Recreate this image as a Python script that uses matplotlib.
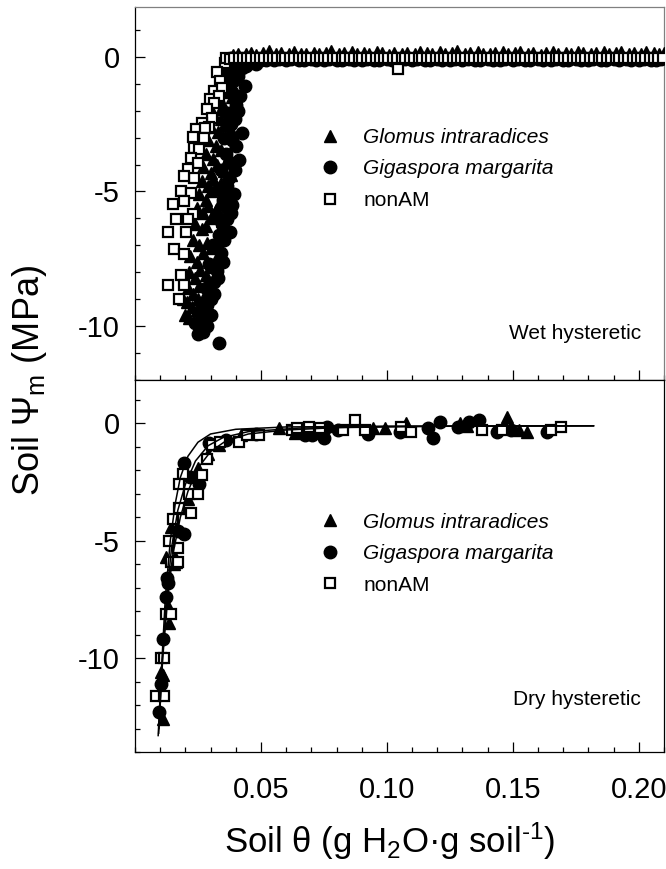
import matplotlib
matplotlib.use('Agg')
import matplotlib.pyplot as plt
from matplotlib.ticker import MultipleLocator, FixedLocator

plt.rcParams['font.family'] = ['Liberation Sans', 'DejaVu Sans']
plt.rcParams['axes.unicode_minus'] = False
plt.rcParams['mathtext.fontset'] = 'custom'
plt.rcParams['mathtext.rm'] = 'Liberation Sans'
plt.rcParams['mathtext.it'] = 'Liberation Sans:italic'

series_labels = ['Glomus intraradices', 'Gigaspora margarita', 'nonAM']
panel_labels = ['Wet hysteretic', 'Dry hysteretic']
x_ticks = [0.05, 0.10, 0.15, 0.20]
x_tick_labels = ['0.05', '0.10', '0.15', '0.20']
y_ticks = [0, -5, -10]
y_tick_labels = ['0', '-5', '-10']

# ---------------- Wet hysteretic (top panel) ----------------
gi_wet_steep_x = [0.0360, 0.0350, 0.0345, 0.0370, 0.0335, 0.0360, 0.0325, 0.0350, 0.0310, 0.0340,
                  0.0300, 0.0330, 0.0380, 0.0290, 0.0320, 0.0280, 0.0310, 0.0360, 0.0270, 0.0300,
                  0.0265, 0.0290, 0.0340, 0.0255, 0.0280, 0.0245, 0.0270, 0.0320, 0.0240, 0.0265,
                  0.0230, 0.0255, 0.0300, 0.0220, 0.0245, 0.0215, 0.0240, 0.0280, 0.0210, 0.0230,
                  0.0205, 0.0225, 0.0190, 0.0250,
                  0.0375, 0.0390, 0.0365, 0.0385, 0.0345, 0.0370, 0.0355, 0.0395, 0.0340, 0.0375,
                  0.0325, 0.0355, 0.0380, 0.0310, 0.0350, 0.0300, 0.0335, 0.0290, 0.0345, 0.0300,
                  0.0280, 0.0330, 0.0285, 0.0320, 0.0270, 0.0300, 0.0260, 0.0295, 0.0255, 0.0275,
                  0.0245, 0.0200, 0.0215]
gi_wet_steep_y = [-0.10, -0.40, -0.75, -0.60, -1.10, -1.30, -1.60, -1.80, -2.10, -2.30,
                  -2.60, -2.80, -2.70, -3.10, -3.30, -3.60, -3.80, -3.90, -4.10, -4.30,
                  -4.60, -4.80, -4.70, -5.10, -5.30, -5.60, -5.80, -5.70, -6.20, -6.40,
                  -6.80, -7.00, -7.10, -7.40, -7.60, -8.00, -8.20, -8.10, -8.60, -8.80,
                  -9.10, -9.30, -9.00, -9.00,
                  -0.20, -0.35, -0.95, -1.50, -1.95, -2.20, -2.55, -3.20, -3.45, -3.70,
                  -4.00, -4.25, -4.40, -4.55, -5.00, -5.00, -5.45, -5.55, -6.10, -6.00,
                  -6.30, -6.80, -6.90, -7.50, -7.30, -7.80, -7.90, -8.40, -8.50, -8.90,
                  -9.40, -9.60, -9.70]
gi_wet_flat_x = [0.039, 0.041, 0.044, 0.046, 0.048, 0.051, 0.053, 0.056, 0.058, 0.061,
                 0.063, 0.066, 0.068, 0.071, 0.073, 0.076, 0.078, 0.081, 0.083, 0.086,
                 0.088, 0.091, 0.093, 0.096, 0.098, 0.101, 0.103, 0.106, 0.108, 0.111,
                 0.113, 0.116, 0.118, 0.121, 0.123, 0.126, 0.128, 0.131, 0.133, 0.136,
                 0.138, 0.141, 0.143, 0.146, 0.148, 0.151, 0.153, 0.156, 0.158, 0.161,
                 0.163, 0.166, 0.168, 0.171, 0.173, 0.176, 0.178, 0.181, 0.183, 0.186,
                 0.188, 0.191, 0.193, 0.196, 0.198, 0.201, 0.203, 0.206, 0.208, 0.210]
gi_wet_flat_y = [0.05, 0.12, 0.10, 0.16, 0.08, 0.14, 0.20, 0.11, 0.15, 0.09,
                 0.18, 0.12, 0.10, 0.16, 0.11, 0.14, 0.21, 0.09, 0.13, 0.17,
                 0.10, 0.15, 0.12, 0.19, 0.13, 0.08, 0.16, 0.11, 0.15, 0.10,
                 0.18, 0.13, 0.09, 0.17, 0.12, 0.15, 0.21, 0.10, 0.13, 0.17,
                 0.12, 0.09, 0.15, 0.19, 0.10, 0.13, 0.17, 0.12, 0.15, 0.08,
                 0.13, 0.18, 0.10, 0.15, 0.12, 0.17, 0.13, 0.09, 0.15, 0.19,
                 0.12, 0.13, 0.17, 0.10, 0.15, 0.12, 0.18, 0.13, 0.10, 0.13]

gm_wet_steep_x = [0.0380, 0.0395, 0.0370, 0.0410, 0.0436, 0.0385, 0.0400, 0.0370, 0.0424, 0.0380,
                  0.0355, 0.0412, 0.0360, 0.0340, 0.0375, 0.0392, 0.0330, 0.0384, 0.0350, 0.0364,
                  0.0376, 0.0320, 0.0335, 0.0310, 0.0340, 0.0324, 0.0295, 0.0312, 0.0280, 0.0284,
                  0.0300, 0.0264, 0.0252, 0.0332, 0.0270,
                  0.0410, 0.0425, 0.0390, 0.0415, 0.0395, 0.0410, 0.0400, 0.0385, 0.0395, 0.0380,
                  0.0365, 0.0380, 0.0360, 0.0355, 0.0345, 0.0350, 0.0330, 0.0315, 0.0300, 0.0285,
                  0.0270, 0.0240]
gm_wet_steep_y = [-0.05, -0.25, -0.45, -0.70, -1.08, -1.30, -1.80, -2.10, -2.84, -2.50,
                  -3.00, -3.84, -3.60, -4.20, -4.50, -5.11, -4.90, -5.49, -5.30, -6.04,
                  -6.49, -5.90, -6.60, -7.00, -7.30, -7.95, -7.70, -8.36, -8.60, -9.22,
                  -9.00, -9.78, -10.30, -10.63, -9.40,
                  -0.15, -0.40, -0.90, -1.45, -2.30, -2.00, -3.30, -3.10, -4.20, -3.95,
                  -4.80, -5.80, -5.60, -6.80, -6.20, -7.60, -8.20, -8.80, -9.60, -10.00,
                  -10.20, -9.90]
gm_wet_flat_x = [0.042, 0.045, 0.047, 0.050, 0.052, 0.055, 0.057, 0.060, 0.062, 0.065,
                 0.067, 0.070, 0.072, 0.075, 0.077, 0.080, 0.082, 0.085, 0.087, 0.090,
                 0.092, 0.095, 0.097, 0.100, 0.102, 0.105, 0.107, 0.110, 0.112, 0.115,
                 0.117, 0.120, 0.122, 0.125, 0.127, 0.130, 0.132, 0.135, 0.137, 0.140,
                 0.142, 0.145, 0.147, 0.150, 0.152, 0.155, 0.157, 0.160, 0.162, 0.165,
                 0.167, 0.170, 0.172, 0.175, 0.177, 0.180, 0.182, 0.185, 0.187, 0.190,
                 0.192, 0.195, 0.197, 0.200, 0.202, 0.205, 0.207, 0.209, 0.044, 0.048]
gm_wet_flat_y = [-0.22, -0.18, -0.15, -0.13, -0.10, -0.12, -0.09, -0.11, -0.08, -0.10,
                 -0.12, -0.09, -0.10, -0.11, -0.08, -0.10, -0.12, -0.09, -0.10, -0.11,
                 -0.08, -0.10, -0.11, -0.09, -0.10, -0.12, -0.09, -0.10, -0.08, -0.11,
                 -0.10, -0.09, -0.12, -0.10, -0.09, -0.11, -0.08, -0.10, -0.11, -0.09,
                 -0.10, -0.12, -0.09, -0.10, -0.08, -0.11, -0.10, -0.09, -0.12, -0.10,
                 -0.09, -0.10, -0.11, -0.08, -0.10, -0.11, -0.09, -0.10, -0.12, -0.09,
                 -0.10, -0.09, -0.11, -0.10, -0.08, -0.10, -0.11, -0.09, -0.35, -0.28]

na_wet_steep_x = [0.0356, 0.0324, 0.0336, 0.0312, 0.0344, 0.0296, 0.0332, 0.0312, 0.0284, 0.0304,
                  0.0264, 0.0292, 0.0244, 0.0276, 0.0232, 0.0272, 0.0236, 0.0256, 0.0224, 0.0252,
                  0.0212, 0.0236, 0.0196, 0.0184, 0.0224, 0.0152, 0.0196, 0.0232, 0.0164, 0.0212,
                  0.0132, 0.0204, 0.0156, 0.0196, 0.0184, 0.0132, 0.0196, 0.0176, 0.1044]
na_wet_steep_y = [-0.22, -0.56, -0.90, -1.27, -1.16, -1.57, -1.46, -1.72, -1.94, -2.28,
                  -2.46, -2.61, -2.69, -2.65, -2.99, -3.02, -3.40, -3.43, -3.77, -3.96,
                  -4.18, -4.51, -4.44, -5.00, -5.07, -5.45, -5.37, -5.82, -6.01, -6.04,
                  -6.49, -6.49, -7.13, -7.31, -8.10, -8.47, -8.47, -8.99, -0.45]
na_wet_flat_x = [0.0360, 0.0378, 0.0393, 0.0412, 0.0427, 0.0446, 0.0461, 0.0480, 0.0495, 0.0514,
                 0.0530, 0.0548, 0.0563, 0.0582, 0.0597, 0.0616, 0.0631, 0.0650, 0.0665, 0.0684,
                 0.0700, 0.0718, 0.0733, 0.0752, 0.0767, 0.0786, 0.0801, 0.0820, 0.0835, 0.0854,
                 0.0870, 0.0888, 0.0903, 0.0922, 0.0937, 0.0956, 0.0971, 0.0990, 0.1005, 0.1024,
                 0.1040, 0.1058, 0.1073, 0.1092, 0.1107, 0.1126, 0.1141, 0.1160, 0.1175, 0.1194,
                 0.1210, 0.1228, 0.1243, 0.1262, 0.1277, 0.1296, 0.1311, 0.1330, 0.1345, 0.1364,
                 0.1380, 0.1398, 0.1413, 0.1432, 0.1447, 0.1466, 0.1481, 0.1500, 0.1515, 0.1534,
                 0.1550, 0.1568, 0.1583, 0.1602, 0.1617, 0.1636, 0.1651, 0.1670, 0.1685, 0.1704,
                 0.1720, 0.1738, 0.1753, 0.1772, 0.1787, 0.1806, 0.1821, 0.1840, 0.1855, 0.1874,
                 0.1890, 0.1908, 0.1923, 0.1942, 0.1957, 0.1976, 0.1991, 0.2010, 0.2025, 0.2044,
                 0.2060, 0.2078, 0.2095]
na_wet_flat_y = [-0.05, -0.08, -0.04, -0.06, -0.03, -0.05, -0.04, -0.06, -0.03, -0.05,
                 -0.04, -0.06, -0.05, -0.03, -0.05, -0.04, -0.06, -0.05, -0.03, -0.05,
                 -0.04, -0.06, -0.05, -0.04, -0.03, -0.05, -0.06, -0.04, -0.04, -0.05,
                 -0.03, -0.05, -0.04, -0.06, -0.05, -0.03, -0.05, -0.04, -0.06, -0.05,
                 -0.04, -0.03, -0.05, -0.06, -0.04, -0.05, -0.03, -0.05, -0.04, -0.06,
                 -0.05, -0.04, -0.03, -0.05, -0.06, -0.04, -0.05, -0.03, -0.05, -0.04,
                 -0.06, -0.05, -0.04, -0.03, -0.05, -0.04, -0.06, -0.05, -0.04, -0.05,
                 -0.04, -0.06, -0.03, -0.05, -0.04, -0.06, -0.05, -0.03, -0.05, -0.04,
                 -0.05, -0.03, -0.06, -0.04, -0.05, -0.04, -0.03, -0.06, -0.05, -0.04,
                 -0.03, -0.05, -0.04, -0.06, -0.05, -0.04, -0.03, -0.05, -0.06, -0.04,
                 -0.05, -0.04, -0.05]

# ---------------- Dry hysteretic (bottom panel) ----------------
gi_dry_x = [0.0112, 0.0104, 0.0112, 0.0136, 0.0160, 0.0124, 0.0164, 0.0132, 0.0156, 0.0144,
            0.0176, 0.0212, 0.0196, 0.0252, 0.0290, 0.0335, 0.0420, 0.0572, 0.0636, 0.0944,
            0.0992, 0.1076, 0.1292, 0.1316, 0.1476, 0.1524, 0.1556]
gi_dry_y = [-12.6, -10.6, -10.7, -8.5, -5.7, -5.7, -5.9, -7.8, -6.0, -4.4,
            -3.6, -3.2, -2.0, -1.9, -1.3, -0.9, -0.5, -0.2, -0.4, -0.2,
            -0.2, 0.0, 0.0, -0.1, 0.26, -0.3, -0.38]

gm_dry_x = [0.0096, 0.0104, 0.0112, 0.0124, 0.0132, 0.0128, 0.0172, 0.0196, 0.0196, 0.0256,
            0.0220, 0.0292, 0.0360, 0.0480, 0.0676, 0.0704, 0.0752, 0.0764, 0.0804, 0.0924,
            0.1052, 0.1164, 0.1184, 0.1212, 0.1284, 0.1324, 0.1364, 0.1436, 0.1492, 0.1636]
gm_dry_y = [-12.3, -11.1, -9.2, -7.4, -6.8, -6.6, -4.6, -4.7, -1.7, -2.6,
            -2.3, -0.85, -0.7, -0.45, -0.5, -0.5, -0.64, -0.17, -0.3, -0.43,
            -0.38, -0.21, -0.6, 0.04, -0.17, 0.04, 0.13, -0.38, -0.3, -0.38]

na_dry_x = [0.0084, 0.0116, 0.0104, 0.0116, 0.0124, 0.0144, 0.0144, 0.0172, 0.0172, 0.0136,
            0.0152, 0.0176, 0.0224, 0.0216, 0.0252, 0.0192, 0.0264, 0.0284, 0.0304, 0.0336,
            0.0412, 0.0444, 0.0492, 0.0624, 0.0644, 0.0692, 0.0736, 0.0824, 0.0872, 0.0912,
            0.1056, 0.1096, 0.1376, 0.1456, 0.1652, 0.1692, 0.0176]
na_dry_y = [-11.6, -11.6, -10.0, -10.0, -8.1, -8.1, -5.9, -5.9, -5.3, -5.0,
            -4.06, -3.59, -3.8, -2.99, -2.99, -2.14, -2.18, -1.5, -0.94, -0.81,
            -0.81, -0.51, -0.51, -0.30, -0.21, -0.17, -0.21, -0.30, 0.13, -0.30,
            -0.17, -0.38, -0.30, -0.30, -0.30, -0.17, -2.56]

# fitted curves (dry panel)
fit_gi_x = [0.0092, 0.0105, 0.0120, 0.0140, 0.0160, 0.0180, 0.0210, 0.0250, 0.0300, 0.0400, 0.0600, 0.1000, 0.1820]
fit_gi_y = [-13.3, -10.5, -7.5, -5.0, -3.4, -2.3, -1.4, -0.8, -0.45, -0.25, -0.15, -0.12, -0.10]
fit_gm_x = [0.0095, 0.0110, 0.0130, 0.0150, 0.0180, 0.0210, 0.0250, 0.0300, 0.0360, 0.0450, 0.0600, 0.0800, 0.1200, 0.1820]
fit_gm_y = [-13.0, -10.0, -7.4, -5.6, -4.0, -2.9, -1.9, -1.2, -0.75, -0.45, -0.28, -0.18, -0.12, -0.10]
fit_na_x = [0.0094, 0.0108, 0.0125, 0.0145, 0.0170, 0.0200, 0.0240, 0.0290, 0.0350, 0.0450, 0.0650, 0.1000, 0.1820]
fit_na_y = [-13.2, -10.2, -7.5, -5.3, -3.7, -2.6, -1.6, -0.95, -0.6, -0.35, -0.2, -0.13, -0.10]

# ---------------- figure ----------------
W, H = 666, 869
fig = plt.figure(figsize=(W / 100, H / 100), dpi=100)
L, R = 135, 664
ax1 = fig.add_axes([L / W, (H - 380) / H, (R - L) / W, 373 / H])
ax2 = fig.add_axes([L / W, (H - 752) / H, (R - L) / W, 372 / H])

tri = dict(marker='^', ms=9, color='black', ls='none', mec='black', zorder=3)
cir = dict(marker='o', ms=9, color='black', ls='none', mec='black', zorder=3)
sqr = dict(marker='s', ms=6.5, mfc='white', mec='black', mew=1.6, ls='none', zorder=3)

h1, = ax1.plot(gi_wet_steep_x + gi_wet_flat_x, gi_wet_steep_y + gi_wet_flat_y, **tri)
h2, = ax1.plot(gm_wet_steep_x + gm_wet_flat_x, gm_wet_steep_y + gm_wet_flat_y, **cir)
h3, = ax1.plot(na_wet_steep_x + na_wet_flat_x, na_wet_steep_y + na_wet_flat_y, **sqr)

ax2.plot(gi_dry_x, gi_dry_y, **tri)
ax2.plot(gm_dry_x, gm_dry_y, **cir)
ax2.plot(na_dry_x, na_dry_y, **sqr)
for fx, fy in [(fit_gi_x, fit_gi_y), (fit_gm_x, fit_gm_y), (fit_na_x, fit_na_y)]:
    ax2.plot(fx, fy, color='black', lw=1.1, zorder=4)

ax1.set_xlim(0, 0.21)
ax2.set_xlim(0, 0.21)
ax1.set_ylim(-12, 1.85)
ax2.set_ylim(-14, 1.85)

for ax in (ax1, ax2):
    ax.xaxis.set_major_locator(FixedLocator(x_ticks))
    ax.xaxis.set_minor_locator(MultipleLocator(0.01))
    ax.yaxis.set_major_locator(FixedLocator(y_ticks))
    ax.yaxis.set_minor_locator(MultipleLocator(1))
    ax.set_yticklabels(y_tick_labels)
    ax.tick_params(axis='both', which='major', direction='in', length=7, width=0.9,
                   labelsize=21, top=False, right=False)
    ax.tick_params(axis='both', which='minor', direction='in', length=3.5, width=0.9,
                   top=False, right=False)
    ax.tick_params(axis='y', which='major', pad=11)
    ax.tick_params(axis='x', which='major', pad=17)
    for s in ax.spines.values():
        s.set_linewidth(0.9)

ax1.set_xticklabels([])
ax2.set_xticklabels(x_tick_labels)
ax1.spines['top'].set_color('#808080')
ax1.spines['right'].set_color('#808080')

for ax, ycen in [(ax1, 0.566), (ax2, 0.533)]:
    leg = ax.legend([h1, h2, h3], series_labels, loc='center left',
                    bbox_to_anchor=(0.349, ycen), frameon=False, fontsize=15,
                    handlelength=1.0, handletextpad=1.1, labelspacing=0.6,
                    borderaxespad=0, borderpad=0)
    leg.get_texts()[0].set_fontstyle('italic')
    leg.get_texts()[1].set_fontstyle('italic')

ax1.text(0.9565, 0.126, panel_labels[0], transform=ax1.transAxes, ha='right', va='center', fontsize=15)
ax2.text(0.9565, 0.14, panel_labels[1], transform=ax2.transAxes, ha='right', va='center', fontsize=15)

fig.text(30 / W, 1 - 380 / H, 'Soil \u03a8$_\\mathregular{m}$ (MPa)', rotation=90,
         ha='center', va='center', fontsize=26)
fig.text(390 / W, 1 - 841 / H, 'Soil \u03b8 (g H$_\\mathregular{2}$O\u00b7g soil$^\\mathregular{\u20101}$)',
         ha='center', va='center', fontsize=25)

fig.savefig('out.png', dpi=100)
